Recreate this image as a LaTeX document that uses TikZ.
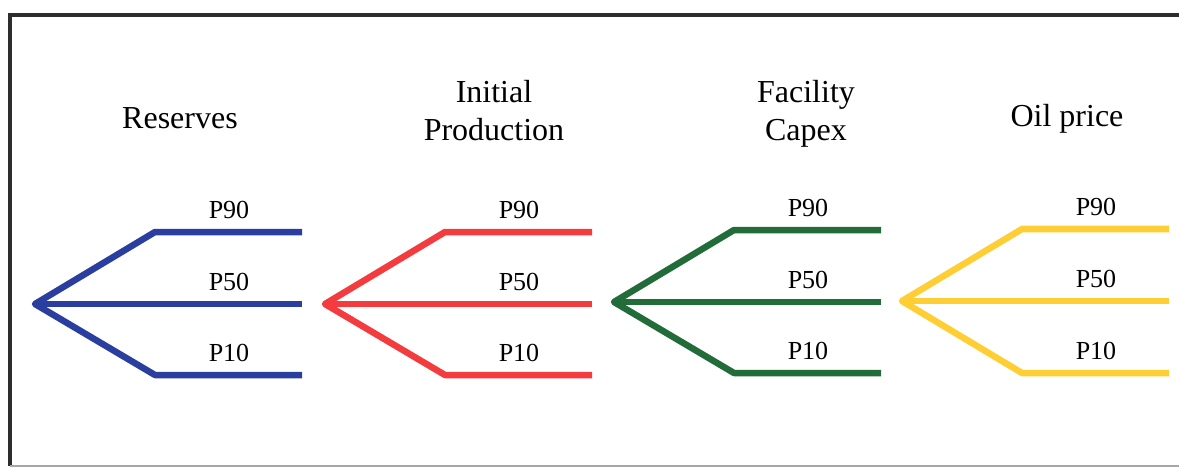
\documentclass[tikz,border=0pt]{standalone}
\usepackage{fontspec}
\setmainfont{Liberation Serif}
\definecolor{treeblue}{RGB}{42,62,160}
\definecolor{treered}{RGB}{244,60,62}
\definecolor{treegreen}{RGB}{34,108,58}
\definecolor{treeyellow}{RGB}{255,206,52}
\definecolor{frame}{RGB}{45,45,45}
\begin{document}
\begin{tikzpicture}[x=1pt,y=-1pt,
  branch/.style={line width=6.5pt,line join=round},
  title/.style={font=\fontsize{32}{38}\selectfont,align=center,inner sep=0pt},
  plabel/.style={font=\fontsize{26}{30}\selectfont,inner sep=0pt}]
\useasboundingbox (0,0) rectangle (1179,468);
% frame
\coordinate (ftr) at (1179,15.5);
\coordinate (ftl) at (10,15.5);
\coordinate (fbl) at (10,466);
\coordinate (fbr) at (1179,466);
\draw[frame,line width=4pt] (ftr) -- (ftl) -- (fbl);
\draw[gray!70,line width=2pt] (fbl) -- (fbr);
% titles
\node[title] (t1) at (180,118) {Reserves};
\node[title] (t2) at (494,111) {Initial\\Production};
\node[title] (t3) at (806,114) {Facility\\Capex};
\node[title] (t4) at (1067,119) {Oil price};
% trees
\foreach \i/\ax/\col/\yt/\ym/\yb in {1/35/treeblue/232/304/375, 2/325/treered/232/304/375, 3/614/treegreen/230/302/373, 4/902/treeyellow/229/301/373}{
  \coordinate (a\i) at (\ax,\ym);
  \coordinate (ct\i) at (\ax+120,\yt);
  \coordinate (cb\i) at (\ax+120,\yb);
  \coordinate (et\i) at (\ax+267,\yt);
  \coordinate (em\i) at (\ax+267,\ym);
  \coordinate (eb\i) at (\ax+267,\yb);
  \draw[branch,\col] (et\i) -- (ct\i) -- (a\i) -- (cb\i) -- (eb\i);
  \draw[branch,\col] (a\i) -- (em\i);
  \node[plabel] (p90\i) at (\ax+194,\yt-22) {P90};
  \node[plabel] (p50\i) at (\ax+194,\ym-22) {P50};
  \node[plabel] (p10\i) at (\ax+194,\yb-22) {P10};
}
\end{tikzpicture}
\end{document}
